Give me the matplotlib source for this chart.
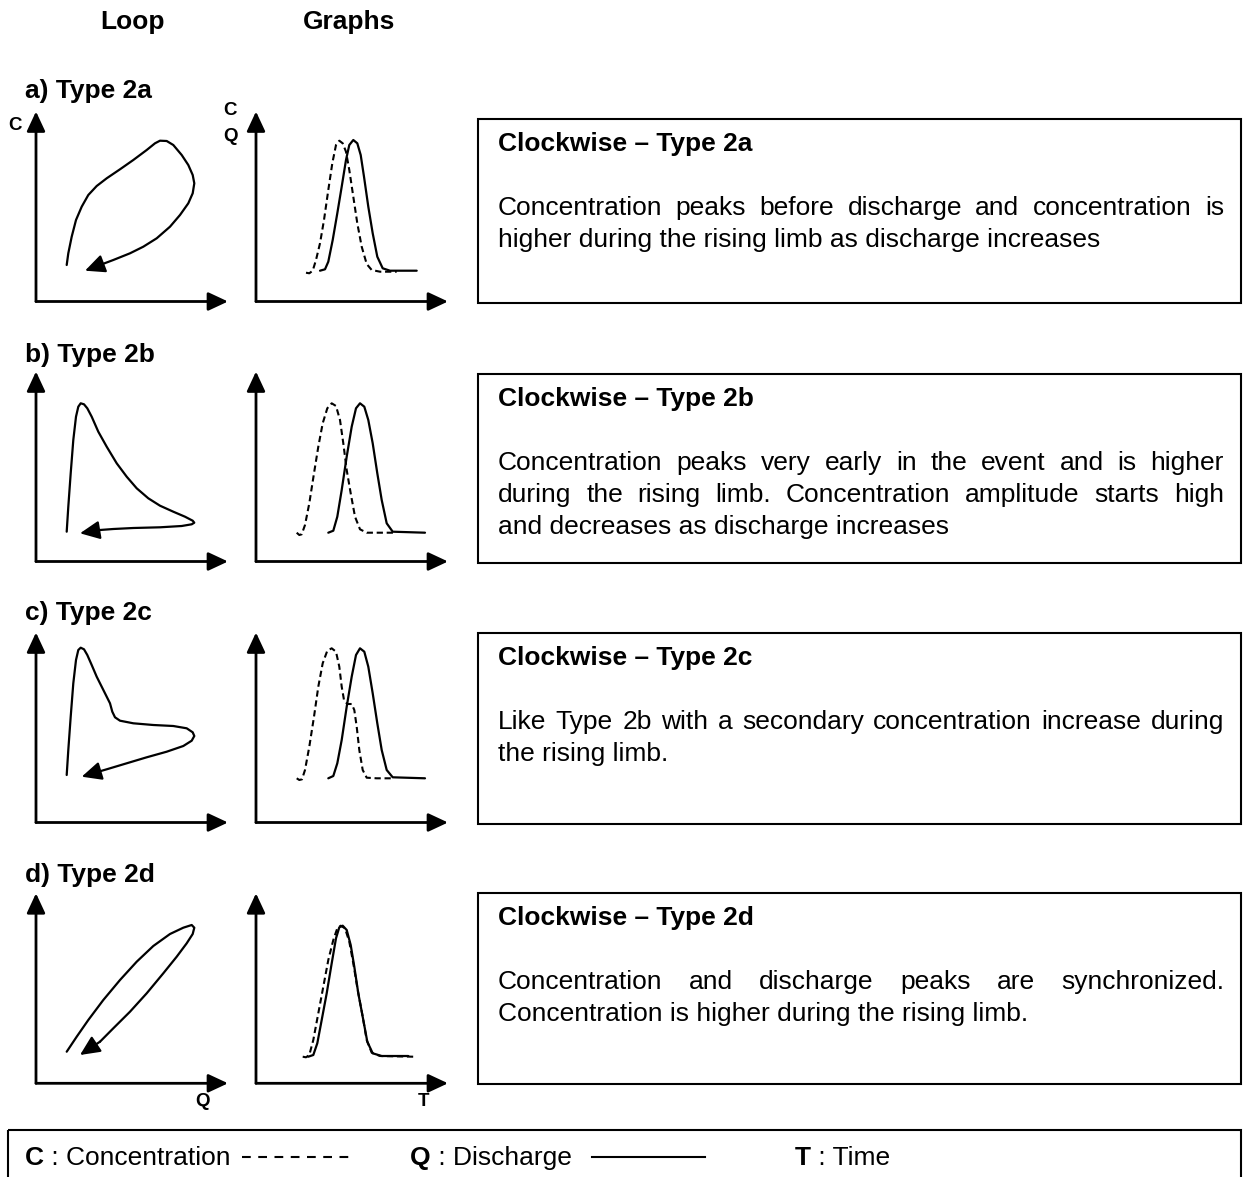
import matplotlib
matplotlib.use('Agg')
import matplotlib.pyplot as plt
from matplotlib.patches import Rectangle

plt.rcParams['font.family'] = ['Liberation Sans', 'DejaVu Sans']

W, H = 1244, 1177

# ---- text ----
headers = ['Loop', 'Graphs']
panel_labels = ['a) Type 2a', 'b) Type 2b', 'c) Type 2c', 'd) Type 2d']
box_titles = ['Clockwise \u2013 Type 2a', 'Clockwise \u2013 Type 2b',
              'Clockwise \u2013 Type 2c', 'Clockwise \u2013 Type 2d']
box_text = [
    ['Concentration peaks before discharge and concentration is',
     'higher during the rising limb as discharge increases'],
    ['Concentration peaks very early in the event and is higher',
     'during the rising limb. Concentration amplitude starts high',
     'and decreases as discharge increases'],
    ['Like Type 2b with a secondary concentration increase during',
     'the rising limb.'],
    ['Concentration and discharge peaks are synchronized.',
     'Concentration is higher during the rising limb.'],
]
legend_keys = ['C', 'Q', 'T']
legend_names = [' : Concentration', ' : Discharge', ' : Time']

# ---- C-Q loops (x = Q, y = C) ----
loop_2a = [(30.7, 36.5), (32.3, 48.2), (35.7, 64.8), (40, 81.5), (45.7, 94.8), (52.3, 106.5),
           (60.7, 115.5), (70.7, 123.2), (84, 132.2), (97.3, 141.5), (110.7, 151.5), (119, 158.2),
           (124, 160.8), (130.7, 160.5), (137.3, 156.5), (145.7, 146.5), (152.3, 136.5),
           (156.7, 126.5), (158.3, 118.2), (156.7, 108.2), (152.3, 98.2), (144, 86.5),
           (134, 74.8), (120.7, 63.2), (107.3, 54.8), (94, 48.2), (77.3, 41.5), (64, 36.5),
           (49, 30.8)]
loop_2b = [(30.7, 29.8), (32.3, 54.8), (34.7, 88.2), (37.3, 121.5), (40, 144.8), (42.3, 154.8),
           (44.7, 158.2), (48, 157.2), (51.3, 153.2), (55.7, 144.8), (62.3, 129.8), (70.7, 114.8),
           (80.7, 98.2), (90.7, 84.8), (100.7, 73.2), (112.3, 63.2), (124, 55.8), (137.3, 49.8),
           (149, 44.8), (156.7, 40.8), (158.3, 38.8), (155.7, 37.2), (145.7, 35.5), (124, 34.2),
           (97.3, 33.5), (77.3, 32.5), (64, 31.5), (44, 28.2)]
loop_2c = [(30.7, 47.5), (32.3, 72.5), (34.7, 105.8), (37.3, 139.2), (40, 162.5), (42.3, 172.5),
           (44.7, 174.8), (48, 173.2), (51.3, 167.5), (55.7, 157.5), (60.7, 145.8), (65.7, 135.8),
           (70.7, 125.8), (74, 119.2), (76.3, 110.8), (79, 105.2), (84, 101.8), (97.3, 99.2),
           (117.3, 97.5), (137.3, 96.5), (150.7, 94.2), (156.7, 90.2), (158.3, 86.5),
           (155.7, 81.8), (147.3, 76.5), (130.7, 70.8), (110.7, 65.2), (90.7, 59.2),
           (70.7, 53.2), (59, 49.8), (45.7, 45.8)]
loop_2d = [(30.7, 31.6), (40.7, 46.6), (52.3, 63.3), (67.3, 83.3), (84, 103.3), (100.7, 121.6),
           (117.3, 137.3), (134, 149.3), (147.3, 155.6), (155.7, 158.3), (158.3, 155.6),
           (156.7, 149.3), (150.7, 140), (140.7, 126.6), (127.3, 110), (110.7, 90), (94, 71.6),
           (77.3, 55), (64, 41.6), (44, 28.3)]

# ---- hydrographs: concentration (dashed) and discharge (solid) vs time ----
conc_2a = [(50, 28.8), (53.3, 28.2), (56.7, 30.8), (60, 41.5), (64, 58.2), (68, 81.5),
           (72.3, 111.5), (76.3, 138.2), (80, 156.5), (83.3, 160.8), (86.7, 158.2), (90, 149.8),
           (93.3, 131.5), (97.3, 104.8), (101.3, 78.2), (105.7, 54.8), (110.7, 37.5),
           (115.7, 31.5), (124, 29.8), (140.7, 29.8)]
dis_2a = [(64, 30.8), (69, 32.2), (72.3, 39.8), (76.7, 61.5), (81.3, 88.2), (85.7, 114.8),
          (90, 141.5), (93.3, 156.5), (97.3, 161.5), (101.3, 158.2), (104.7, 146.5), (108, 124.8),
          (112.3, 94.8), (116.7, 68.2), (121.3, 44.8), (126.7, 33.2), (134, 30.8), (160.7, 30.8)]
conc_2b = [(40.7, 28.8), (43.3, 26.5), (45.7, 27.2), (49, 36.5), (53.3, 58.2), (58, 88.2),
           (62.3, 114.8), (66.7, 138.2), (71.3, 153.2), (75.7, 158.2), (80, 155.5), (84, 141.5),
           (87.3, 118.2), (90.7, 91.5), (94.7, 68.2), (99, 44.8), (104, 32.2), (110.7, 28.8),
           (137.3, 28.8)]
dis_2b = [(72.3, 28.8), (77.3, 30.8), (81.3, 44.8), (85.7, 71.5), (90.7, 104.8), (95.7, 134.8),
          (100, 153.2), (104, 158.2), (108.3, 154.8), (112.3, 141.5), (116.7, 118.2),
          (121.3, 88.2), (125.7, 61.5), (130.7, 38.2), (136.7, 29.8), (169, 28.8)]
conc_2c = [(40.7, 44.2), (43.3, 42.5), (46, 43.2), (49, 52.5), (53.3, 75.8), (58, 105.8),
           (62.3, 135.8), (66.7, 159.2), (71.3, 171.8), (75.7, 174.2), (80, 170.8), (83.3, 155.8),
           (85.7, 135.8), (88, 122.5), (91.3, 118.5), (95.7, 118.5), (98.3, 112.5), (100.7, 95.8),
           (103.3, 72.5), (106.7, 52.5), (110.7, 44.8), (120.7, 44.2), (137.3, 44.2)]
dis_2c = [(72.3, 44.2), (77.3, 46.5), (81.3, 59.2), (85.7, 82.5), (90.7, 115.8), (95.7, 145.8),
          (100, 167.5), (104, 174.2), (108.3, 170.8), (112.3, 155.8), (116.7, 129.2),
          (121.3, 99.2), (125.7, 72.5), (130.7, 52.5), (136.7, 45.2), (169, 44.2)]
conc_2d = [(46.7, 26.6), (50, 26), (53.3, 28.3), (57.3, 43.3), (62.3, 70), (67.3, 96.6),
           (72.3, 123.3), (77.3, 143.3), (81.3, 155), (84.7, 157.6), (89, 155), (93.3, 141.6),
           (97.3, 120), (101.7, 93.3), (106.7, 66.6), (110.7, 43.3), (115.7, 30.6), (124, 27.3),
           (157.3, 26.6)]
dis_2d = [(52.3, 26.6), (57.3, 28.3), (61.3, 40), (65.7, 63.3), (70.7, 90), (75.7, 120),
          (80, 145), (83.3, 156), (86.7, 157.6), (90.7, 153.3), (94.7, 138.3), (98.3, 116.6),
          (102.3, 90), (107.3, 63.3), (111.3, 41.6), (116.7, 30), (125.7, 27.3), (152.3, 27.3)]

loops = [loop_2a, loop_2b, loop_2c, loop_2d]
concs = [conc_2a, conc_2b, conc_2c, conc_2d]
dises = [dis_2a, dis_2b, dis_2c, dis_2d]

# ---- layout (pixels from top-left) ----
origin_y = [301.5, 561.5, 822.5, 1083.3]
label_base = [98, 362, 620, 882]
box_top = [119, 374, 633, 893]
loop_x, graph_x = 36, 256
ax_w, ax_h = 192, 190

fig = plt.figure(figsize=(W / 100, H / 100), dpi=100)
bg = fig.add_axes([0, 0, 1, 1])
bg.set_xlim(0, W)
bg.set_ylim(H, 0)
bg.axis('off')

FS = 19
AFS = 13.5
head = '-|>,head_length=0.6,head_width=0.28'


def small_axes(x0, y0):
    ax = fig.add_axes([x0 / W, (H - y0) / H, ax_w / W, ax_h / H])
    ax.set_xlim(0, ax_w)
    ax.set_ylim(0, ax_h)
    ax.axis('off')
    ax.patch.set_alpha(0)
    arrow = dict(arrowstyle=head, mutation_scale=20, lw=2, color='k', shrinkA=0, shrinkB=0)
    ax.annotate('', xy=(ax_w, 0), xytext=(0, 0), arrowprops=arrow, annotation_clip=False)
    ax.annotate('', xy=(0, ax_h), xytext=(0, 0), arrowprops=arrow, annotation_clip=False)
    return ax


for i in range(4):
    oy = origin_y[i]
    bg.text(25, label_base[i], panel_labels[i], fontsize=FS, fontweight='bold', va='baseline')

    # loop with arrow on the falling limb
    ax = small_axes(loop_x, oy)
    qx = [p[0] for p in loops[i]]
    cy = [p[1] for p in loops[i]]
    ax.plot(qx[:-1], cy[:-1], color='k', lw=1.6, solid_joinstyle='round', solid_capstyle='round')
    ax.annotate('', xy=(qx[-1], cy[-1]), xytext=(qx[-2], cy[-2]),
                arrowprops=dict(arrowstyle=head, mutation_scale=20, lw=1.6, color='k',
                                shrinkA=0, shrinkB=0))

    # C and Q time series
    ax = small_axes(graph_x, oy)
    ax.plot([p[0] for p in concs[i]], [p[1] for p in concs[i]], color='k', lw=1.5,
            linestyle=(0, (3, 1.8)))
    ax.plot([p[0] for p in dises[i]], [p[1] for p in dises[i]], color='k', lw=1.6,
            solid_joinstyle='round', solid_capstyle='round')

    # description box
    top = box_top[i]
    bg.add_patch(Rectangle((478, top), 763, oy + 1 - top, fill=False, lw=1.5, ec='k'))
    bg.text(498, top + 32, box_titles[i], fontsize=FS, fontweight='bold', va='baseline')

fig.canvas.draw()
r = fig.canvas.get_renderer()


def justify(x0, x1, y, s):
    words = s.split()
    ts = [bg.text(0, y, w, fontsize=FS, va='baseline') for w in words]
    ws = [t.get_window_extent(r).width for t in ts]
    gap = (x1 - x0 - sum(ws)) / (len(words) - 1)
    x = x0
    for t, w in zip(ts, ws):
        t.set_x(x)
        x += w + gap


for i, lines in enumerate(box_text):
    for j, line in enumerate(lines):
        y = box_top[i] + 96 + 32 * j
        if j < len(lines) - 1:
            justify(498, 1224, y, line)
        else:
            bg.text(498, y, line, fontsize=FS, va='baseline')

# headers and axis names
bg.text(100, 29, headers[0], fontsize=FS, fontweight='bold', va='baseline')
bg.text(303, 29, headers[1], fontsize=FS, fontweight='bold', va='baseline')
bg.text(15, 130, 'C', fontsize=AFS, fontweight='bold', va='baseline', ha='center')
bg.text(230, 115, 'C', fontsize=AFS, fontweight='bold', va='baseline', ha='center')
bg.text(230, 141, 'Q', fontsize=AFS, fontweight='bold', va='baseline', ha='center')
bg.text(202, 1106, 'Q', fontsize=AFS, fontweight='bold', va='baseline', ha='center')
bg.text(424, 1106, 'T', fontsize=AFS, fontweight='bold', va='baseline', ha='center')

# key at the bottom
bg.add_patch(Rectangle((8, 1130), 1233, 60, fill=False, lw=1.5, ec='k', clip_on=False))
for k, name, x0 in zip(legend_keys, legend_names, [25, 410, 795]):
    t = bg.text(x0, 1165, k, fontsize=FS, fontweight='bold', va='baseline')
    w = t.get_window_extent(r).width
    bg.text(x0 + w, 1165, name, fontsize=FS, va='baseline')
bg.plot([242, 355], [1157, 1157], color='k', lw=1.5, linestyle=(0, (4.2, 3.6)))
bg.plot([592, 705], [1157, 1157], color='k', lw=1.5)

fig.savefig('out.png', dpi=100)
